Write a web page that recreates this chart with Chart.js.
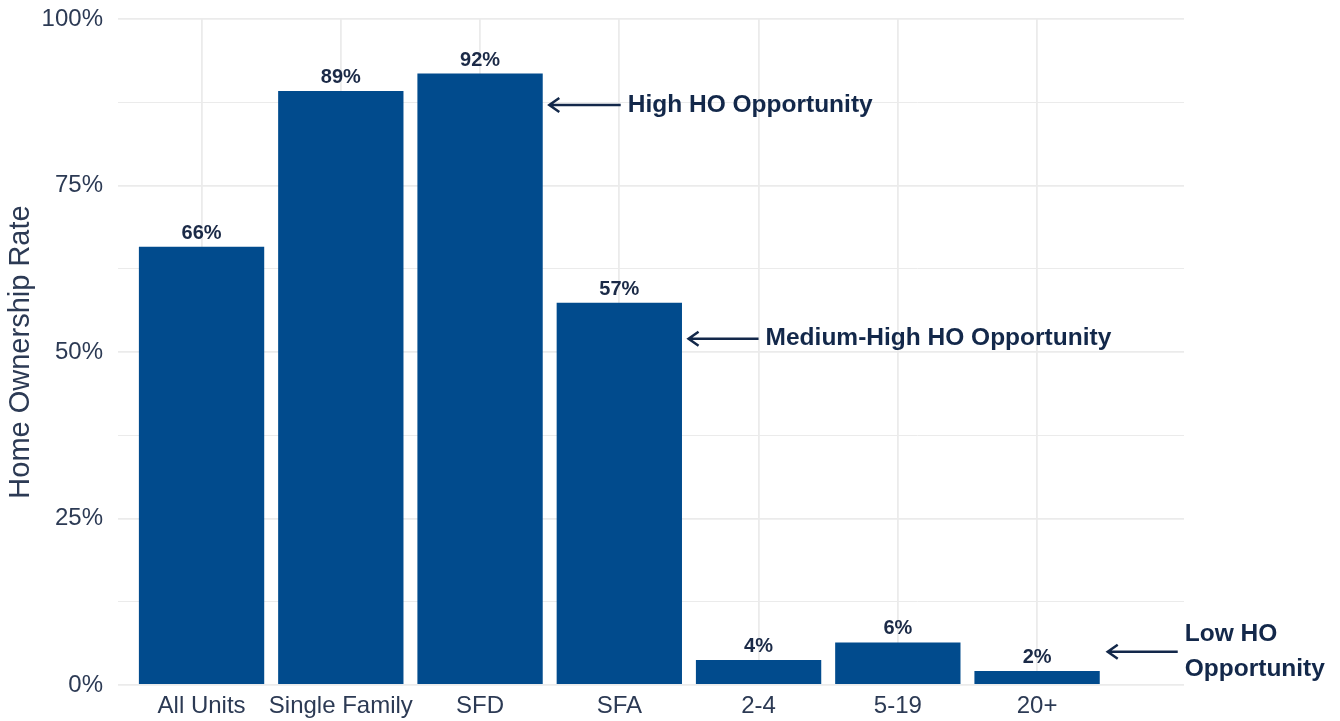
<!DOCTYPE html>
<html>
<head>
<meta charset="utf-8">
<script src="https://cdn.jsdelivr.net/npm/chart.js@4"></script>
<style>
  html, body { margin: 0; padding: 0; background: #fff; }
  canvas { display: block; }
</style>
</head>
<body>
<canvas id="chart" width="1340" height="721"></canvas>
<script>
// data
const categories = ['All Units', 'Single Family', 'SFD', 'SFA', '2-4', '5-19', '20+'];
const ownershipRate = [0.658, 0.892, 0.918, 0.574, 0.0375, 0.064, 0.021];
const yTicks = [0, 0.125, 0.25, 0.375, 0.5, 0.625, 0.75, 0.875, 1];

// annotation text + where the arrow sits (x in category units, y in rate)
const notes = [
  { lines: ['High HO Opportunity'], tipX: 3.49, endX: 4.01, y: 0.871 },
  { lines: ['Medium-High HO Opportunity'], tipX: 4.49, endX: 5.0, y: 0.52 },
  { lines: ['Low HO', 'Opportunity'], tipX: 7.5, endX: 8.01, y: 0.05 }
];

const FONT = '"Liberation Sans", Arial, Helvetica, sans-serif';
const BAR = '#014b8d';
const NAVY = '#13284a';
const AXIS_TEXT = '#2c3a54';

const isMajor = v => Math.abs(v * 4 - Math.round(v * 4)) < 1e-6;

// value labels over bars + arrow notes
const labelPlugin = {
  id: 'labels',
  afterDatasetsDraw(chart) {
    const ctx = chart.ctx;
    const xs = chart.scales.x, ys = chart.scales.y;
    ctx.save();
    ctx.fillStyle = '#1b2a47';
    ctx.font = 'bold 20px ' + FONT;
    ctx.textAlign = 'center';
    ctx.textBaseline = 'alphabetic';
    chart.getDatasetMeta(0).data.forEach((bar, i) => {
      ctx.fillText(Math.round(ownershipRate[i] * 100) + '%', bar.x, bar.y - 8);
    });

    ctx.strokeStyle = NAVY;
    ctx.fillStyle = NAVY;
    ctx.lineWidth = 2.5;
    ctx.font = 'bold 24.5px ' + FONT;
    ctx.textAlign = 'left';
    ctx.textBaseline = 'middle';
    notes.forEach(n => {
      const tx = xs.getPixelForValue(n.tipX);
      const ex = xs.getPixelForValue(n.endX);
      const y = ys.getPixelForValue(n.y);
      ctx.beginPath();
      ctx.moveTo(ex, y);
      ctx.lineTo(tx + 1, y);
      ctx.moveTo(tx + 11, y - 7);
      ctx.lineTo(tx + 1, y);
      ctx.lineTo(tx + 11, y + 7);
      ctx.stroke();
      const lh = 35;
      const y0 = y - (n.lines.length - 1) * lh / 2;
      n.lines.forEach((t, k) => ctx.fillText(t, ex + 7, y0 + k * lh));
    });
    ctx.restore();
  }
};

new Chart(document.getElementById('chart'), {
  type: 'bar',
  data: {
    datasets: [{
      data: ownershipRate.map((v, i) => ({ x: i + 1, y: v })),
      backgroundColor: BAR,
      borderWidth: 0,
      barPercentage: 1,
      categoryPercentage: 0.9
    }]
  },
  options: {
    responsive: false,
    animation: false,
    layout: { padding: { left: 0, right: 156, top: 19, bottom: 0 } },
    plugins: { legend: { display: false }, tooltip: { enabled: false } },
    scales: {
      x: {
        type: 'linear',
        offset: false,
        min: 0.4,
        max: 8.055,
        afterBuildTicks: s => { s.ticks = categories.map((c, i) => ({ value: i + 1 })); },
        afterFit: s => { s.height = 36; s.paddingLeft = 0; s.paddingRight = 0; },
        ticks: {
          padding: 7,
          autoSkip: false,
          maxRotation: 0,
          color: AXIS_TEXT,
          font: { family: FONT, size: 24 },
          callback: v => categories[v - 1] || ''
        },
        grid: { color: '#ebebeb', lineWidth: 1.8, drawTicks: false, offset: false },
        border: { display: false }
      },
      y: {
        min: 0,
        max: 1,
        afterBuildTicks: s => { s.ticks = yTicks.map(v => ({ value: v })); },
        afterFit: s => { s.width = 118; s.paddingTop = 0; s.paddingBottom = 0; },
        ticks: {
          padding: 15,
          color: AXIS_TEXT,
          font: { family: FONT, size: 24 },
          callback: v => (isMajor(v) ? Math.round(v * 100) + '%' : '')
        },
        grid: {
          color: '#ebebeb',
          drawTicks: false,
          lineWidth: c => (c.tick && isMajor(c.tick.value) ? 1.8 : 1)
        },
        border: { display: false },
        title: {
          display: true,
          text: 'Home Ownership Rate',
          color: AXIS_TEXT,
          font: { family: FONT, size: 29 },
          padding: { top: 4, bottom: 0 }
        }
      }
    }
  },
  plugins: [labelPlugin]
});
</script>
</body>
</html>
